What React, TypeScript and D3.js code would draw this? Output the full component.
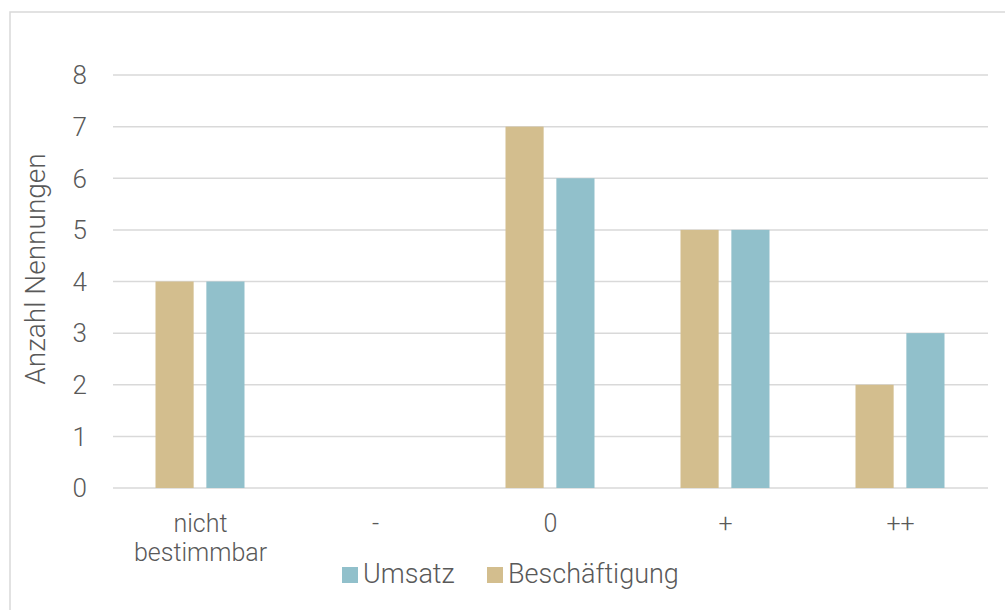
import React from "react";
import * as d3 from "d3";

const categories = ["nicht bestimmbar", "-", "0", "+", "++"];
const categoryLines = [["nicht", "bestimmbar"], ["-"], ["0"], ["+"], ["++"]];
const beschaeftigung = [4, 0, 7, 5, 2];
const umsatz = [4, 0, 6, 5, 3];
const yTicks = [0, 1, 2, 3, 4, 5, 6, 7, 8];
const seriesNames = ["Beschäftigung", "Umsatz"];
const legendOrder = ["Umsatz", "Beschäftigung"];

const W = 1005;
const H = 610;
const left = 113;
const right = 988;
const top = 75;
const bottom = 488;
const FONT = "Roboto, 'Open Sans', sans-serif";
const TEXT = "#595959";
const GRID = "#D9D9D9";
const colors: Record<string, string> = { "Beschäftigung": "#D3BE8E", "Umsatz": "#91C0CB" };

export default function App() {
  const x = d3.scaleBand<string>().domain(categories).range([left, right]);
  const y = d3.scaleLinear().domain([0, 8]).range([bottom, top]);
  const inner = d3.scaleBand<string>().domain(seriesNames).range([0, 89]).paddingInner(0.25);
  const values: Record<string, number[]> = { "Beschäftigung": beschaeftigung, "Umsatz": umsatz };

  return (
    <svg width={W} height={H} style={{ position: "absolute", left: 0, top: 0 }}>
      <rect x={0} y={0} width={W} height={H} fill="#fff" />
      <rect x={10} y={12} width={W + 20} height={H + 20} fill="none" stroke="#D9D9D9" strokeWidth={1.5} />
      {yTicks.map((t) => (
        <g key={t}>
          <line x1={left} x2={right} y1={y(t)} y2={y(t)} stroke={GRID} strokeWidth={1.5} />
          <text x={87} y={y(t)} dy="0.36em" textAnchor="end" fontFamily={FONT} fontWeight={300} fontSize={26} fill={TEXT}>
            {t}
          </text>
        </g>
      ))}
      {seriesNames.map((s) =>
        categories.map((c, i) => {
          const v = values[s][i];
          const bx = (x(c) as number) + x.bandwidth() / 2 - 45 + (inner(s) as number);
          return (
            <rect key={s + c} x={bx} y={y(v)} width={inner.bandwidth()} height={y(0) - y(v)} fill={colors[s]} />
          );
        })
      )}
      {categories.map((c, i) => (
        <text key={c} textAnchor="middle" fontFamily={FONT} fontWeight={300} fontSize={25} fill={TEXT}>
          {categoryLines[i].map((l, j) => (
            <tspan key={j} x={(x(c) as number) + x.bandwidth() / 2} y={532 + j * 29}>
              {l}
            </tspan>
          ))}
        </text>
      ))}
      <text
        transform={`translate(45, 269) rotate(-90)`}
        textAnchor="middle"
        fontFamily={FONT}
        fontWeight={300}
        fontSize={28}
        fill={TEXT}
      >
        Anzahl Nennungen
      </text>
      {legendOrder.map((s, i) => {
        const lx = i === 0 ? 342 : 487;
        return (
          <g key={s}>
            <rect x={lx} y={567} width={16} height={16} fill={colors[s]} />
            <text x={lx + 21} y={583} fontFamily={FONT} fontWeight={300} fontSize={27} fill={TEXT}>
              {s}
            </text>
          </g>
        );
      })}
    </svg>
  );
}
